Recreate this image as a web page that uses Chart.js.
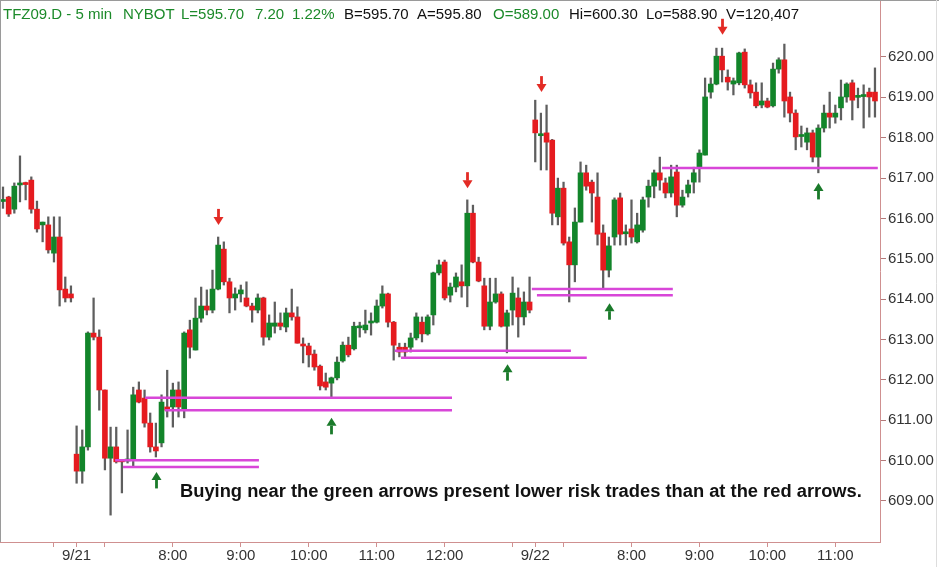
<!DOCTYPE html>
<html><head><meta charset="utf-8">
<script src="https://cdn.jsdelivr.net/npm/chart.js@4.4.0/dist/chart.umd.min.js"></script>
<style>html,body{margin:0;padding:0;background:#fff;overflow:hidden}canvas{display:block}</style>
</head><body>
<canvas id="c" width="939" height="567"></canvas>
<script>
// ---- data (5-min bars, index = bar number) ----
const opens = [616.42,616.53,616.23,616.83,616.87,616.95,616.23,615.84,615.84,615.14,
615.54,614.25,614.13,610.16,609.74,610.34,613.16,613.06,611.75,610.06,
610.34,610.00,609.99,610.04,611.75,611.55,610.93,610.34,610.44,611.33,
611.33,611.75,611.25,613.24,612.74,613.53,613.83,613.73,614.25,615.24,
614.43,614.03,614.13,614.03,613.83,613.73,614.03,613.06,613.33,613.41,
613.31,613.66,613.56,612.87,612.84,612.64,612.34,611.95,611.92,612.05,
612.47,612.86,612.77,613.29,613.24,613.41,613.43,613.83,614.13,613.43,
612.81,612.81,612.81,613.04,613.43,613.14,613.61,614.65,614.92,614.10,
614.30,614.43,614.33,616.13,614.92,614.33,613.33,613.93,614.13,613.33,
613.73,614.03,613.56,613.93,618.44,618.05,618.12,617.94,616.04,616.75,
615.42,614.85,615.91,617.13,616.90,616.53,615.64,614.72,615.54,616.51,
615.62,615.74,615.42,615.71,616.53,616.80,617.13,616.88,616.63,617.15,
616.33,616.63,616.90,617.25,617.57,619.13,619.33,620.02,619.50,619.33,
619.36,620.12,619.31,619.13,618.81,618.91,618.79,619.70,619.93,619.01,
618.61,618.03,617.89,618.12,617.52,618.24,618.61,618.51,618.74,619.01,
619.36,619.00,619.02,619.13,619.13];
const highs = [616.78,616.55,616.88,617.55,616.90,617.03,616.43,615.91,616.04,616.04,
616.04,614.55,614.33,610.86,610.76,613.19,614.03,613.24,611.75,610.83,
610.83,610.02,610.76,611.82,611.95,611.75,611.18,610.93,611.63,612.24,
611.92,611.95,613.19,613.48,614.03,614.30,614.23,614.72,615.54,615.42,
614.52,614.28,614.35,614.43,613.90,614.13,614.05,613.61,613.93,613.66,
613.78,614.25,613.81,613.04,612.91,612.74,612.37,612.17,612.07,612.57,
612.94,613.06,613.43,613.43,613.73,613.66,613.98,614.33,614.15,613.45,
612.91,612.91,613.16,613.66,613.56,613.61,614.67,614.97,614.97,614.40,
614.65,614.85,616.46,616.33,615.04,614.52,614.52,614.52,614.18,613.73,
614.55,614.28,614.18,614.55,618.93,618.61,618.81,617.96,617.00,616.90,
615.54,616.26,617.40,617.32,616.95,617.13,615.84,615.54,616.51,616.63,
615.84,616.46,616.13,616.53,616.95,617.20,617.52,617.00,617.32,617.32,
616.70,616.95,617.27,617.70,619.48,619.48,620.22,620.22,619.68,619.48,
620.12,620.20,619.43,619.36,619.36,618.98,619.85,619.98,620.32,619.13,
618.69,618.29,618.24,618.19,618.32,618.81,619.13,618.81,619.43,619.36,
619.43,619.23,619.31,619.23,619.73];
const lows = [616.25,616.05,616.13,616.41,616.46,616.13,615.66,615.42,615.14,614.92,
613.83,613.93,613.93,609.44,609.44,610.26,612.99,611.25,609.77,608.65,
609.94,609.20,609.94,609.84,611.43,610.83,610.21,610.09,610.34,611.08,
610.83,611.08,611.06,612.54,612.74,613.43,613.61,613.66,614.23,614.35,
613.66,613.73,613.93,613.81,613.43,613.66,612.86,612.99,613.16,613.24,
613.19,613.48,612.91,612.42,612.32,612.24,611.75,611.75,611.58,612.00,
612.44,612.57,612.74,613.06,613.16,613.11,613.41,613.78,613.31,612.49,
612.57,612.57,612.69,612.99,612.94,613.11,613.36,614.60,613.98,613.93,
614.18,614.05,613.81,614.90,614.43,613.24,613.24,613.90,613.31,612.67,
613.36,613.06,613.36,613.66,617.40,617.20,617.20,615.84,615.84,615.34,
613.93,614.43,615.91,616.70,615.91,615.34,614.25,614.55,615.34,615.34,
615.34,615.39,615.39,615.66,616.28,616.51,616.70,616.51,616.53,616.04,
616.28,616.53,616.63,616.90,617.57,618.98,619.31,619.38,619.18,619.06,
619.31,619.23,618.98,618.74,618.74,618.74,618.76,619.60,618.51,618.39,
617.70,617.77,617.70,617.40,617.13,618.14,618.24,618.36,618.44,618.88,
618.44,618.74,618.24,618.51,618.51];
const closes = [616.46,616.11,616.80,616.87,616.84,616.23,615.74,615.91,615.22,615.54,
614.23,614.03,614.03,609.74,610.34,613.16,613.06,611.75,610.06,610.34,
609.97,609.97,610.03,611.63,611.45,610.93,610.34,610.24,611.45,611.25,
611.75,611.33,613.16,612.81,613.53,613.83,613.73,614.25,615.34,614.43,
614.03,614.13,614.23,613.83,613.73,614.03,613.06,613.41,613.41,613.33,
613.66,613.56,612.91,612.84,612.62,612.32,611.85,611.82,612.05,612.44,
612.86,612.62,613.33,613.33,613.36,613.45,613.83,614.13,613.43,612.86,
612.69,612.69,613.04,613.56,613.14,613.56,614.65,614.85,614.03,614.30,
614.55,614.33,616.13,614.92,614.45,613.33,613.93,614.13,613.33,613.66,
614.15,613.56,613.93,613.73,618.12,618.09,617.89,616.13,616.75,615.39,
614.85,615.91,617.13,616.80,616.63,615.61,614.72,615.32,616.46,615.61,
615.66,615.54,615.84,616.46,616.80,617.13,616.95,616.63,617.03,616.33,
616.53,616.83,617.13,617.62,619.01,619.33,620.02,619.68,619.38,619.41,
620.10,619.31,619.11,618.79,618.91,618.76,619.70,619.93,618.91,618.61,
618.02,618.06,618.12,617.52,618.24,618.61,618.51,618.61,619.01,619.33,
618.93,619.03,619.04,619.01,618.91];

const tickIndex  = [9, 13, 18, 30, 42, 54, 66, 78, 90, 94, 99, 111, 123, 135, 147];
const tickLabels = ['', '9/21', '', '8:00', '9:00', '10:00', '11:00', '12:00', '', '9/22', '', '8:00', '9:00', '10:00', '11:00'];
const priceTicks = [609, 610, 611, 612, 613, 614, 615, 616, 617, 618, 619, 620];

// support levels (magenta): price, first bar, last bar
const levelPrice = [610.01, 609.84, 611.56, 611.25, 612.72, 612.55, 614.25, 614.10, 617.25];
const levelFrom  = [19.8, 21.2, 25.1, 28.6, 69.2, 70.3, 93.4, 94.3, 116.4];
const levelTo    = [45.2, 45.2, 79.3, 79.3, 100.3, 103.1, 118.3, 118.3, 154.5];

// arrows: bar index and price at the arrow tip
const redArrowBar   = [38, 82, 95, 127];
const redArrowTip   = [615.84, 616.75, 619.13, 620.55];
const greenArrowBar = [27, 58, 89, 107, 144];
const greenArrowTip = [609.72, 611.06, 612.39, 613.90, 616.88];

const headerParts = [
  ['TFZ09.D - 5 min', 'g'], ['NYBOT', 'g'], ['L=595.70', 'g'], ['7.20', 'g'], ['1.22%', 'g'],
  ['B=595.70', 'k'], ['A=595.80', 'k'], ['O=589.00', 'g'], ['Hi=600.30', 'k'], ['Lo=588.90', 'k'], ['V=120,407', 'k']
];
const noteText = 'Buying near the green arrows present lower risk trades than at the red arrows.';

// ---- styling ----
const GREEN = '#12852a', RED = '#e51b1f', WICK = '#5e5e5e', MAGENTA = '#d846d8';
const AXIS = '#cf9090', FONT = '"Liberation Sans", Arial, sans-serif';

const idx = opens.map((_, i) => i);
const bodyData = idx.map(i => ({x: i, y: [opens[i], closes[i]]}));
const wickData = idx.map(i => ({x: i, y: [lows[i], highs[i]]}));
const bodyColors = idx.map(i => closes[i] >= opens[i] ? GREEN : RED);

const levelSets = levelPrice.map((p, k) => ({
  type: 'line',
  data: [{x: levelFrom[k], y: p}, {x: levelTo[k], y: p}],
  borderColor: MAGENTA, borderWidth: 2.5, pointRadius: 0, fill: false, tension: 0
}));

const extras = {
  id: 'extras',
  beforeDraw(chart) {
    const c = chart.ctx; c.save(); c.fillStyle = '#fff'; c.fillRect(0, 0, chart.width, chart.height); c.restore();
  },
  afterDraw(chart) {
    const c = chart.ctx, xs = chart.scales.x, ys = chart.scales.y;
    c.save();
    // arrows (dir = 1 pointing down, -1 pointing up)
    const drawArrow = (bar, tip, dir, col) => {
      const x = Math.round(xs.getPixelForValue(bar)) + 0.5;
      const y = ys.getPixelForValue(tip);
      c.fillStyle = col;
      const base = y - dir * 16, neck = y - dir * 8;
      c.fillRect(x - 1.4, Math.min(base, neck), 2.8, Math.abs(neck - base) + 0.5);
      c.beginPath(); c.moveTo(x - 5, neck); c.lineTo(x + 5, neck); c.lineTo(x, y); c.closePath(); c.fill();
    };
    redArrowBar.forEach((b, k) => drawArrow(b, redArrowTip[k], 1, '#e32b25'));
    greenArrowBar.forEach((b, k) => drawArrow(b, greenArrowTip[k], -1, '#1a7a2a'));

    // header
    c.font = '15px ' + FONT; c.textBaseline = 'alphabetic';
    const hx = [3, 123, 181, 255, 292, 344, 417, 493, 569, 646, 726];
    headerParts.forEach((p, k) => { c.fillStyle = p[1] === 'g' ? '#1c8a2a' : '#111'; c.fillText(p[0], hx[k], 19); });

    // annotation
    c.font = 'bold 15px ' + FONT;
    const w15 = c.measureText(noteText).width;
    const fs = 15 * 682 / w15;
    c.font = 'bold ' + fs.toFixed(2) + 'px ' + FONT;
    c.fillStyle = '#111';
    c.fillText(noteText, 180, 497);

    // frame
    c.strokeStyle = '#9a9a9a'; c.lineWidth = 1;
    c.beginPath(); c.moveTo(0.5, 0); c.lineTo(0.5, chart.chartArea.bottom); c.stroke();
    c.beginPath(); c.moveTo(0, 0.5); c.lineTo(chart.width, 0.5); c.stroke();
    c.strokeStyle = '#dddddd';
    c.beginPath(); c.moveTo(chart.width - 2.5, 0); c.lineTo(chart.width - 2.5, chart.height); c.stroke();
    c.restore();
  }
};

new Chart(document.getElementById('c'), {
  type: 'bar',
  data: {
    datasets: [
      ...levelSets,
      {type: 'bar', data: bodyData, backgroundColor: bodyColors, barThickness: 5, grouped: false, minBarLength: 2, borderWidth: 0},
      {type: 'bar', data: wickData, backgroundColor: WICK, barThickness: 1.6, grouped: false, borderWidth: 0}
    ]
  },
  options: {
    responsive: false, animation: false, devicePixelRatio: 1,
    layout: {padding: 0},
    plugins: {legend: {display: false}, tooltip: {enabled: false}, title: {display: false}},
    scales: {
      x: {
        type: 'linear', min: -0.53, max: 154.89, offset: false,
        afterBuildTicks: s => { s.ticks = tickIndex.map(v => ({value: v})); },
        afterFit: s => { s.height = 25; s.paddingLeft = 0; s.paddingRight = 0; },
        ticks: {
          autoSkip: false, maxRotation: 0, padding: 0, color: '#333',
          font: {family: FONT, size: 15},
          callback: v => { const k = tickIndex.indexOf(v); return k >= 0 ? tickLabels[k] : ''; }
        },
        grid: {drawOnChartArea: false, drawTicks: true, tickLength: 5, color: AXIS, offset: false},
        border: {display: true, color: AXIS, width: 1}
      },
      y: {
        type: 'linear', position: 'right', min: 607.984, max: 621.412,
        afterBuildTicks: s => { s.ticks = priceTicks.map(v => ({value: v})); },
        afterFit: s => { s.width = 59; s.paddingTop = 0; s.paddingBottom = 0; },
        ticks: {padding: 2, color: '#333', font: {family: FONT, size: 15}, callback: v => Number(v).toFixed(2)},
        grid: {drawOnChartArea: false, drawTicks: true, tickLength: 6, color: '#b27a7a'},
        border: {display: true, color: AXIS, width: 1}
      }
    }
  },
  plugins: [extras]
});
</script>
</body></html>
